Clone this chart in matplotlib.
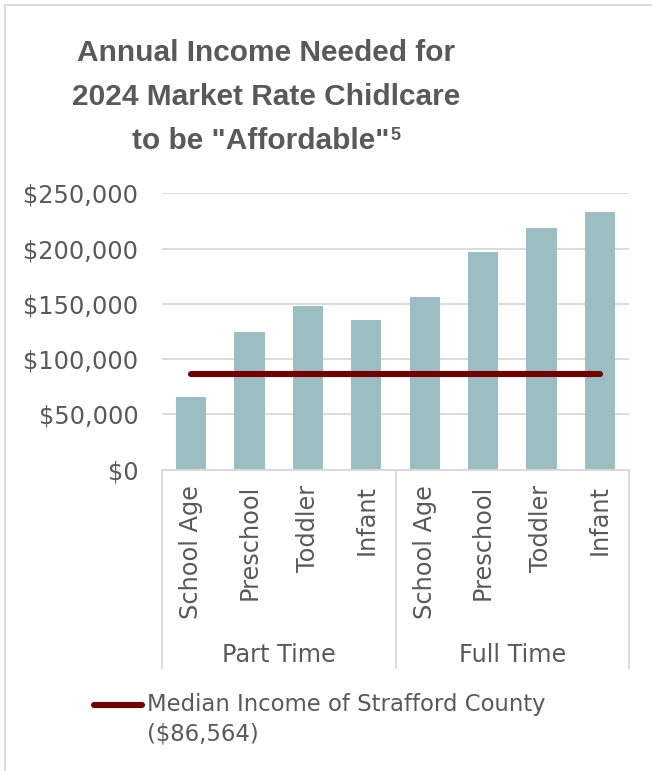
import matplotlib
matplotlib.use("Agg")
import matplotlib.pyplot as plt
from matplotlib.lines import Line2D

# ---- data ----
groups = ["Part Time", "Full Time"]
age_categories = ["School Age", "Preschool", "Toddler", "Infant"]
income_needed = [65800, 124500, 148000, 135500, 156200, 197000, 219000, 232800]
median_income = 86564
median_label = "Median Income of Strafford County\n($86,564)"
y_ticks = [0, 50000, 100000, 150000, 200000, 250000]

# ---- styles ----
BAR_COLOR = "#9BBEC3"
LINE_COLOR = "#730000"
TEXT_COLOR = "#595959"
GRID_COLOR = "#D9D9D9"
AX_FONT = "DejaVu Sans"
TITLE_FONT = "Liberation Sans"
FS = 17.3
FS_LEGEND = 16.4

W, H = 652, 771
fig = plt.figure(figsize=(W / 100, H / 100), dpi=100)
fig.patch.set_facecolor("white")

def fx(px):
    return px / W

def fy(py):
    return 1 - py / H

# outer chart frame (top and left edges)
fig.add_artist(Line2D([fx(5), 1.0], [fy(4.5), fy(4.5)], color=GRID_COLOR, lw=1.3))
fig.add_artist(Line2D([fx(5), fx(5)], [fy(4.5), 0.0], color=GRID_COLOR, lw=1.3))

left, right, top, bottom = 162, 629, 193.3, 469.7
ax = fig.add_axes([fx(left), fy(bottom), fx(right - left), (bottom - top) / H])

labels = age_categories * len(groups)
x = list(range(len(labels)))
ax.bar(x, income_needed, width=0.52, color=BAR_COLOR, zorder=2)
ax.plot([x[0], x[-1]], [median_income, median_income], color=LINE_COLOR,
        lw=4.4, solid_capstyle="round", zorder=3)

ax.set_xlim(-0.5, len(labels) - 0.5)
ax.set_ylim(0, 250000)
ax.set_yticks(y_ticks)
ax.set_yticklabels([f"${v:,.0f}" for v in y_ticks], fontfamily=AX_FONT,
                   fontsize=FS, color=TEXT_COLOR)
ax.yaxis.grid(True, color=GRID_COLOR, lw=1.3, zorder=0)
ax.set_axisbelow(True)
ax.tick_params(axis="y", length=0, pad=17)

ax.set_xticks(x)
ax.set_xticklabels(labels, rotation=90, fontfamily=AX_FONT, fontsize=FS,
                   color=TEXT_COLOR)
ax.tick_params(axis="x", length=0, pad=11)

for side in ["left", "right", "top"]:
    ax.spines[side].set_visible(False)
ax.spines["bottom"].set_color(GRID_COLOR)
ax.spines["bottom"].set_linewidth(1.3)

# multi-level category separators and group labels
xt = ax.get_xaxis_transform()
sep_depth = -(668 - bottom) / (bottom - top)
n = len(age_categories)
for b in [-0.5 + k * n for k in range(len(groups) + 1)]:
    ax.add_line(Line2D([b, b], [0, sep_depth], transform=xt, color=GRID_COLOR,
                       lw=1.3, clip_on=False))
grp_y = -(655 - bottom) / (bottom - top)
for i, g in enumerate(groups):
    ax.text(i * n + (n - 1) / 2, grp_y, g, transform=xt, ha="center", va="center",
            fontfamily=AX_FONT, fontsize=FS, color=TEXT_COLOR)

# title
title_lines = ["Annual Income Needed for", "2024 Market Rate Chidlcare",
               'to be "Affordable"']
title_y = [53, 97, 141]
tfs = 21.5
for i, (line, ty) in enumerate(zip(title_lines, title_y)):
    cx = 266 if i < 2 else 261
    t = fig.text(fx(cx), fy(ty), line, ha="center", va="center",
                 fontfamily=TITLE_FONT, fontweight="bold", fontsize=tfs,
                 color=TEXT_COLOR)
fig.canvas.draw()
bb = t.get_window_extent(renderer=fig.canvas.get_renderer())
fig.text(bb.x1 / W + fx(1), fy(136), "5", ha="left", va="center",
         fontfamily=TITLE_FONT, fontweight="bold", fontsize=13, color=TEXT_COLOR)

# legend key
fig.add_artist(Line2D([fx(94), fx(142)], [fy(705), fy(705)], color=LINE_COLOR,
                      lw=4.4, solid_capstyle="round"))
fig.text(fx(147), fy(705), median_label.split("\n")[0], ha="left", va="center",
         fontfamily=AX_FONT, fontsize=FS_LEGEND, color=TEXT_COLOR)
fig.text(fx(147), fy(734), median_label.split("\n")[1], ha="left", va="center",
         fontfamily=AX_FONT, fontsize=FS_LEGEND, color=TEXT_COLOR)

fig.savefig("out.png", dpi=100, facecolor="white")
